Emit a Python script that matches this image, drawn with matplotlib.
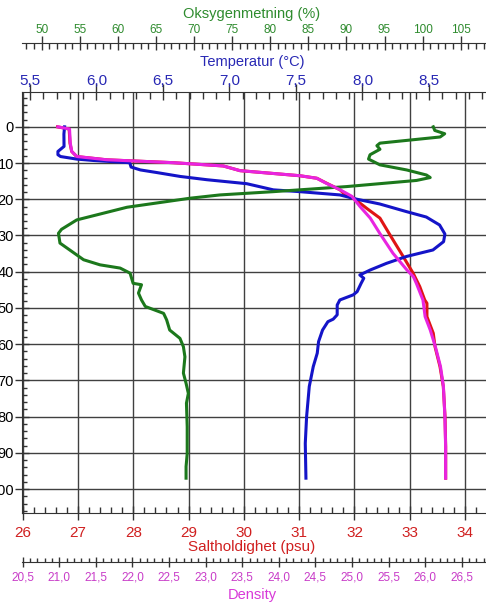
import matplotlib
matplotlib.use("Agg")
import matplotlib.pyplot as plt
from matplotlib.ticker import MultipleLocator, FuncFormatter

plt.rcParams['font.family'] = ['Liberation Sans', 'DejaVu Sans']

# --- Data ---
temp_depth = [0, 2, 5.4, 6.8, 7.7, 8.2, 8.9, 9.3, 9.9, 11.1, 11.9, 12.6, 13.7, 14.6,
              15.7, 17.4, 17.9, 18.8, 20.0, 21.3, 23.4, 24.9, 27.1, 29.6, 31.7, 34.0,
              35.8, 37.7, 39.5, 40.9, 41.8, 43.2, 45.5, 46.4, 47.8, 49.2, 51.9, 53.1,
              53.8, 56.1, 59.3, 62.5, 66.2, 71.7, 80.0, 87.4, 97.0]
temperature = [5.76, 5.755, 5.756, 5.71, 5.71, 5.73, 5.85, 5.98, 6.25, 6.26, 6.33, 6.45,
               6.63, 6.83, 7.13, 7.33, 7.53, 7.83, 7.96, 8.13, 8.33, 8.48, 8.58, 8.62,
               8.61, 8.53, 8.33, 8.18, 8.06, 7.98, 8.01, 7.99, 7.96, 7.93, 7.83, 7.81,
               7.81, 7.78, 7.74, 7.70, 7.67, 7.66, 7.63, 7.60, 7.58, 7.57, 7.575]

oxy_depth = [0, 1.0, 1.9, 2.8, 4.5, 5.2, 6.2, 7.7, 8.9, 10.5, 11.9, 13.3, 14.0, 14.8,
             16.5, 17.9, 18.8, 19.7, 22.2, 25.7, 28.3, 29.4, 32.1, 36.7, 38.1, 39.0,
             40.4, 43.2, 43.6, 45.9, 47.8, 49.6, 51.5, 53.3, 56.1, 58.4, 60.7, 63.5,
             68.0, 70.8, 73.6, 76.3, 82.8, 90.2, 93.8, 97.0]
oxygen = [101.4, 101.6, 102.9, 102.3, 94.4, 94.0, 94.4, 93.1, 92.9, 94.4, 97.9, 100.5,
          101.0, 99.2, 90.0, 80.4, 73.4, 69.5, 61.2, 54.6, 52.6, 52.2, 52.4, 55.5, 57.65,
          60.3, 61.6, 62.0, 63.1, 62.7, 63.1, 63.6, 66.0, 66.4, 66.8, 68.15, 68.6, 68.8,
          68.6, 68.95, 69.25, 69.0, 69.1, 69.1, 68.95, 68.95]

sal_depth = [0, 0.6, 4.5, 6.8, 8.2, 9.1, 9.9, 10.8, 12.1, 13.5, 14.2, 15.6, 17.4, 18.3,
             19.4, 20.0, 22.5, 25.2, 29.8, 35.8, 40.4, 44.1, 47.8, 48.7, 52.4, 57.0,
             60.7, 66.2, 71.7, 80.0, 88.3, 97.0]
salinity = [26.63, 26.84, 26.855, 26.886, 26.976, 27.519, 28.723, 29.627, 29.93, 31.01,
            31.32, 31.50, 31.74, 31.80, 31.92, 32.01, 32.22, 32.46, 32.64, 32.88, 33.06,
            33.18, 33.27, 33.31, 33.31, 33.425, 33.456, 33.546, 33.606, 33.637, 33.649,
            33.649]

dens_depth = [0, 0.6, 4.5, 6.8, 8.2, 9.1, 9.9, 10.8, 12.1, 13.5, 14.2, 15.6, 17.4, 19.2,
              22.0, 25.2, 29.4, 34.9, 39.5, 41.4, 43.2, 47.8, 52.4, 56.1, 60.7, 66.2,
              71.7, 80.0, 88.3, 97.0]
density = [20.98, 21.14, 21.15, 21.17, 21.24, 21.65, 22.56, 23.24, 23.47, 24.29, 24.52,
           24.65, 24.84, 25.00, 25.11, 25.25, 25.38, 25.56, 25.75, 25.84, 25.88, 25.97,
           26.00, 26.07, 26.14, 26.21, 26.25, 26.27, 26.28, 26.28]

# colours
c_temp = "#1414c8"
c_oxy = "#1c781c"
c_sal = "#e01414"
c_dens = "#e824e0"
spine_col = "#333333"

comma = FuncFormatter(lambda v, _: f"{v:.1f}".replace(".", ","))

fig = plt.figure(figsize=(4.86, 6.03), dpi=100)
W, H = 486, 603
left, right, top, bottom = 21.7, 486, 91.7, 513.3
ax = fig.add_axes([left / W, (H - bottom) / H, (right - left) / W, (bottom - top) / H])


def title_y(px):
    # pixel row (from top of image) -> axes fraction
    return (bottom - px) / (bottom - top)


title_x = (252 - left) / (right - left)

# salinity (main axes, bottom)
ax.plot(salinity, sal_depth, color=c_sal, lw=2.2, solid_joinstyle="round")
ax.set_xlim(25.982, 34.378)
ax.set_ylim(106.7, -9.7)
ax.xaxis.set_major_locator(MultipleLocator(1))
ax.xaxis.set_minor_locator(MultipleLocator(0.2))
ax.yaxis.set_major_locator(MultipleLocator(10))
ax.yaxis.set_minor_locator(MultipleLocator(2))
ax.grid(True, which="major", color="#404040", lw=1.0)
ax.set_axisbelow(True)
ax.tick_params(axis="x", which="major", direction="inout", length=10, width=1,
               color=spine_col, labelsize=11, labelcolor="#d02020", pad=4)
ax.tick_params(axis="x", which="minor", direction="in", length=4.5, width=1, color=spine_col)
ax.tick_params(axis="y", which="major", direction="inout", length=10, width=1,
               color=spine_col, labelsize=10.5, pad=0.5)
ax.tick_params(axis="y", which="minor", direction="in", length=3.5, width=1, color=spine_col)
ax.set_xlabel("Saltholdighet (psu)", color="#d02020", fontsize=11)
ax.xaxis.set_label_coords(title_x, title_y(546.7))
ax.xaxis.label.set_verticalalignment("center")
for s in ["top", "right"]:
    ax.spines[s].set_visible(False)
for s in ["left", "bottom"]:
    ax.spines[s].set_color(spine_col)

# temperature (top)
ax_t = ax.twiny()
ax_t.plot(temperature, temp_depth, color=c_temp, lw=2.2, solid_joinstyle="round")
ax_t.set_xlim(5.4376, 8.929)
ax_t.xaxis.set_major_locator(MultipleLocator(0.5))
ax_t.xaxis.set_minor_locator(MultipleLocator(0.1))
ax_t.xaxis.set_major_formatter(comma)
ax_t.tick_params(axis="x", which="major", direction="inout", length=11, width=1,
                 color=spine_col, labelsize=11, labelcolor="#2828b4", pad=-2.5)
ax_t.tick_params(axis="x", which="minor", direction="in", length=5, width=1, color=spine_col)
ax_t.set_xlabel("Temperatur (°C)", color="#2828b4", fontsize=10.5)
ax_t.xaxis.set_label_coords(title_x, title_y(62))
ax_t.xaxis.label.set_verticalalignment("center")
for s in ["bottom", "left", "right"]:
    ax_t.spines[s].set_visible(False)
ax_t.spines["top"].set_color(spine_col)

# oxygen saturation (top, offset)
ax_o = ax.twiny()
ax_o.plot(oxygen, oxy_depth, color=c_oxy, lw=2.2, solid_joinstyle="round")
ax_o.set_xlim(47.375, 108.32)
ax_o.spines["top"].set_position(("outward", 35.3))
ax_o.xaxis.set_major_locator(MultipleLocator(5))
ax_o.xaxis.set_minor_locator(MultipleLocator(1))
ax_o.tick_params(axis="x", which="major", direction="inout", length=9.4, width=1,
                 color=spine_col, labelsize=8.5, labelcolor="#2e8b2e", pad=0)
ax_o.tick_params(axis="x", which="minor", direction="in", length=4.3, width=1, color=spine_col)
ax_o.set_xlabel("Oksygenmetning (%)", color="#2e8b2e", fontsize=10.5)
ax_o.xaxis.set_label_coords(title_x, title_y(14))
ax_o.xaxis.label.set_verticalalignment("center")
for s in ["bottom", "left", "right"]:
    ax_o.spines[s].set_visible(False)
ax_o.spines["top"].set_color(spine_col)

# density (bottom, offset)
ax_d = ax.twiny()
ax_d.plot(density, dens_depth, color=c_dens, lw=2.2, solid_joinstyle="round")
ax_d.set_xlim(20.486, 26.832)
ax_d.xaxis.set_ticks_position("bottom")
ax_d.xaxis.set_label_position("bottom")
ax_d.spines["bottom"].set_position(("outward", 34.8))
ax_d.xaxis.set_major_locator(MultipleLocator(0.5))
ax_d.xaxis.set_minor_locator(MultipleLocator(0.1))
ax_d.xaxis.set_major_formatter(comma)
ax_d.tick_params(axis="x", which="major", direction="inout", length=7, width=1,
                 color=spine_col, labelsize=8.5, labelcolor="#c83cc8", pad=3.5)
ax_d.tick_params(axis="x", which="minor", direction="in", length=3.2, width=1, color=spine_col)
ax_d.set_xlabel("Density", color="#d838d8", fontsize=10.5)
ax_d.xaxis.set_label_coords(title_x, title_y(595.5))
ax_d.xaxis.label.set_verticalalignment("center")
for s in ["top", "left", "right"]:
    ax_d.spines[s].set_visible(False)
ax_d.spines["bottom"].set_color(spine_col)

fig.savefig("out.png", dpi=100)
